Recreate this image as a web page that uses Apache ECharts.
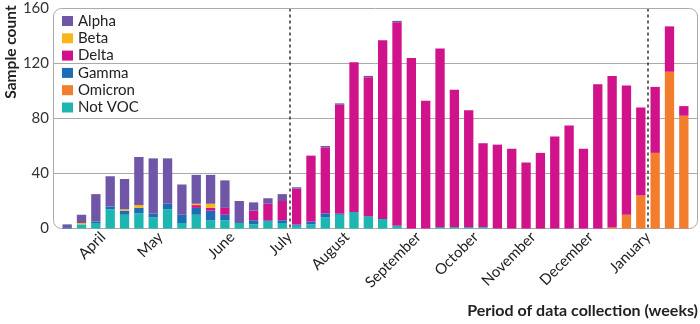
<!DOCTYPE html>
<html><head><meta charset="utf-8">
<script src="https://cdn.jsdelivr.net/npm/echarts@6/dist/echarts.min.js"></script>
<style>html,body{margin:0;padding:0;background:#fff}#c{width:700px;height:324px}</style>
</head><body><div id="c"></div>
<script>
// 44 weekly collection periods
const weeks = Array.from({length: 44}, (_, i) => 'Week ' + (i + 1));

// Sample counts per variant, one value per week
const notVOC  = [0,3,4,14,10,11,8,14,4,10,6,6,4,3,5,4,2,3,8,10,12,9,7,2,0,0,1,1,1,1,0,0,0,0,0,0,0,0,0,0,0,0,0,0];
const gamma   = [1,0,1,2,3,4,3,4,6,5,7,4,0,3,1,2,1,2,3,1,0,0,0,0,0,0,0,0,0,0,0,0,0,0,0,0,0,0,0,0,0,0,0,0];
const omicron = [0,0,0,0,0,0,0,0,0,0,0,0,0,0,0,0,0,0,0,0,0,0,0,0,0,0,0,0,0,0,0,0,0,0,0,0,0,0,1,10,24,55,114,82];
const delta   = [0,0,0,0,0,0,0,0,0,2,2,5,0,7,12,14,26,48,48,79,109,101,130,148,124,93,130,100,85,61,61,58,48,55,67,75,58,105,110,94,64,48,33,7];
const beta    = [0,1,0,0,1,2,0,0,0,1,3,0,0,0,0,0,0,0,0,0,0,0,0,0,0,0,0,0,0,0,0,0,0,0,0,0,0,0,0,0,0,0,0,0];
const alpha   = [2,6,20,22,22,35,40,33,22,21,21,20,16,6,4,5,1,0,1,1,0,1,0,1,0,0,0,0,0,0,0,0,0,0,0,0,0,0,0,0,0,0,0,0];

// Month tick labels, placed on week boundaries
const monthLabels = ['April','May','June','July','August','September','October','November','December','January'];
const monthBoundaries = [3,7,12,16,20,25,29,33,37,41];
// Dashed dividers (start of July, start of January)
const dividerBoundaries = [16, 41];

const yTicks = [0, 40, 80, 120, 160];

const FONT = 'Lato, "Open Sans", sans-serif';
const colors = {
  'Alpha': '#6f56a6',
  'Beta': '#fbb41a',
  'Delta': '#d0128b',
  'Gamma': '#1d6db5',
  'Omicron': '#f27d2c',
  'Not VOC': '#1db6b0'
};

const boundaryIds = Array.from({length: weeks.length + 1}, (_, i) => 'b' + i);

const chart = echarts.init(document.getElementById('c'), null, {renderer: 'canvas'});

function barSeries(name, data) {
  return {
    name: name, type: 'bar', stack: 'total', data: data,
    xAxisIndex: 0, yAxisIndex: 0,
    barCategoryGap: '35%',
    itemStyle: {color: colors[name]},
    emphasis: {disabled: true}
  };
}

const option = {
  animation: false,
  textStyle: {fontFamily: FONT},
  grid: [
    {left: 60, right: 9, top: 8.5, bottom: 95.5},
    {left: 53, right: 2, top: 8.5, bottom: 95.5}
  ],
  legend: {
    orient: 'vertical', left: 62, top: 13.5, padding: 0,
    itemWidth: 11, itemHeight: 10, itemGap: 2.3,
    icon: 'rect',
    data: ['Alpha','Beta','Delta','Gamma','Omicron','Not VOC'],
    textStyle: {fontSize: 15, color: '#222', fontFamily: FONT}
  },
  xAxis: [
    {gridIndex: 0, type: 'category', data: weeks, show: false},
    {gridIndex: 0, type: 'category', data: boundaryIds, boundaryGap: false, position: 'bottom',
     axisLine: {show: false}, axisTick: {show: false},
     axisLabel: {interval: 0, rotate: 45, margin: 6, fontSize: 15, color: '#222', fontFamily: FONT,
       formatter: (v, i) => { const k = monthBoundaries.indexOf(i); return k >= 0 ? monthLabels[k] : ''; }},
     splitLine: {show: true, interval: (i) => dividerBoundaries.indexOf(i) >= 0,
       lineStyle: {type: [3, 3], color: '#333', width: 1.5}}},
    {gridIndex: 1, type: 'value', show: false}
  ],
  yAxis: [
    {gridIndex: 0, type: 'value', min: yTicks[0], max: yTicks[yTicks.length - 1], interval: 40, show: false},
    {gridIndex: 1, type: 'value', min: yTicks[0], max: yTicks[yTicks.length - 1], interval: 40,
     axisLine: {show: false}, axisTick: {show: false},
     axisLabel: {fontSize: 15, color: '#333', margin: 4, fontFamily: FONT},
     splitLine: {show: true, showMinLine: false, showMaxLine: false, lineStyle: {color: '#aaa', width: 1}}}
  ],
  graphic: [
    {type: 'rect', silent: true, z: 1,
     shape: {x: 53.5, y: 8.5, width: 644, height: 220, r: 8},
     style: {fill: 'none', stroke: '#aaa', lineWidth: 1}},
    {type: 'text', silent: true, x: 11, y: 52, rotation: Math.PI / 2,
     style: {text: 'Sample count', font: 'bold 15.5px ' + FONT, fill: '#222', align: 'center', verticalAlign: 'middle'}},
    {type: 'text', silent: true, x: 698, y: 311,
     style: {text: 'Period of data collection (weeks)', font: 'bold 16px ' + FONT, fill: '#222', align: 'right', verticalAlign: 'middle'}}
  ],
  series: [
    barSeries('Not VOC', notVOC),
    barSeries('Gamma', gamma),
    barSeries('Omicron', omicron),
    barSeries('Delta', delta),
    barSeries('Beta', beta),
    barSeries('Alpha', alpha)
  ]
};
chart.setOption(option);
</script>
</body></html>
